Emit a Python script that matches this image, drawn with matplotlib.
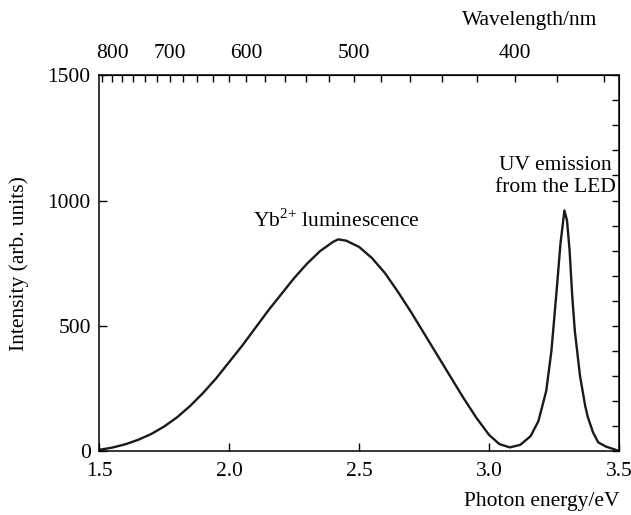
import numpy as np
import matplotlib.pyplot as plt
from matplotlib.ticker import FixedLocator, NullFormatter

plt.rcParams['font.family'] = ['Liberation Serif', 'DejaVu Serif']
plt.rcParams['mathtext.fontset'] = 'custom'
plt.rcParams['mathtext.rm'] = 'Liberation Serif'

# spectrum
energy = [1.50, 1.55, 1.60, 1.65, 1.70, 1.75, 1.80, 1.85, 1.90, 1.95,
          2.00, 2.05, 2.10, 2.15, 2.20, 2.25, 2.30, 2.35, 2.40, 2.42,
          2.45, 2.50, 2.55, 2.60, 2.65, 2.70, 2.75, 2.80, 2.85, 2.90,
          2.95, 3.00, 3.04, 3.08, 3.12, 3.16, 3.19, 3.22, 3.24, 3.26,
          3.275, 3.29, 3.30, 3.31, 3.32, 3.33, 3.35, 3.37, 3.38, 3.40,
          3.42, 3.45, 3.48, 3.50]
intensity = [5, 14, 27, 45, 68, 98, 135, 180, 232, 290,
             355, 420, 490, 560, 625, 690, 748, 798, 835, 845,
             840, 815, 770, 710, 635, 555, 470, 385, 300, 215,
             135, 65, 28, 15, 25, 60, 120, 240, 400, 640,
             830, 960, 920, 800, 620, 480, 300, 180, 136, 75,
             35, 18, 8, 0]

wl_major = [800, 700, 600, 500, 400]
wl_minor = list(range(360, 840, 20))

fs = 15.5
fig = plt.figure(figsize=(6.31, 5.15), dpi=100)
ax = fig.add_axes([0.157, 0.124, 0.824, 0.730])
ax.plot(energy, intensity, color='#1a1a1a', lw=1.7)

ax.set_xlim(1.5, 3.5)
ax.set_ylim(0, 1500)
ax.set_xticks([1.5, 2.0, 2.5, 3.0, 3.5])
ax.set_xticklabels(['1.5', '2.0', '2.5', '3.0', '3.5'])
ax.set_yticks([0, 500, 1000, 1500])
ax.tick_params(direction='in', length=6, width=1, labelsize=fs)
ax.tick_params(axis='x', pad=8)
ax.tick_params(axis='y', pad=6)
ax.tick_params(top=False, right=False)
for s in ax.spines.values():
    s.set_linewidth(1.1)

# right axis: unlabeled ticks every 100
ry = ax.secondary_yaxis('right')
ry.set_yticks(range(0, 1600, 100))
ry.yaxis.set_major_formatter(NullFormatter())
ry.tick_params(direction='in', length=5, width=1)

# top axis in wavelength
conv = 1239.84
tx = ax.secondary_xaxis('top', functions=(lambda e: conv / np.maximum(e, 1e-6),
                                          lambda w: conv / np.maximum(w, 1e-6)))
tx.xaxis.set_major_locator(FixedLocator(wl_major))
tx.xaxis.set_minor_locator(FixedLocator(wl_minor))
tx.xaxis.set_minor_formatter(NullFormatter())
tx.tick_params(which='both', direction='in', length=5, width=1, labelsize=fs, pad=9)

ax.set_ylabel('Intensity (arb. units)', fontsize=fs)
ax.yaxis.set_label_coords(-0.135, 0.5)
fig.text(0.858, 0.018, 'Photon energy/eV', fontsize=fs, ha='center')
fig.text(0.840, 0.952, 'Wavelength/nm', fontsize=fs, ha='center')

ax.text(2.412, 896, r'Yb$^{2{+}}$ luminescence', fontsize=fs, ha='center', va='baseline')
ax.text(3.254, 1096, 'UV emission\nfrom the LED', fontsize=fs, ha='center',
        va='center', linespacing=1.2)

fig.savefig('out.png', dpi=100)
